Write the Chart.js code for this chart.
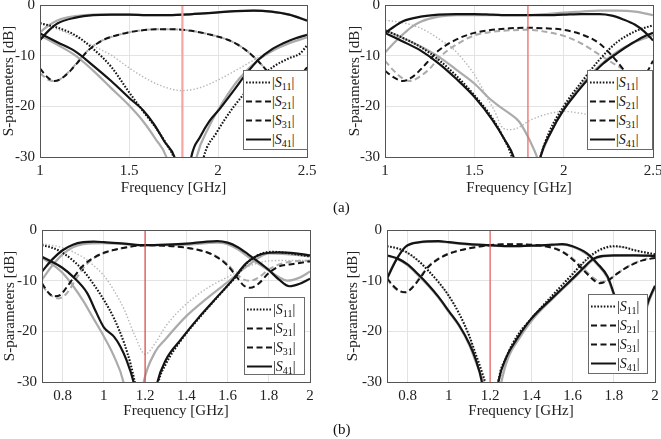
<!DOCTYPE html>
<html>
<head>
<meta charset="utf-8">
<script src="https://cdn.jsdelivr.net/npm/chart.js@4/dist/chart.umd.min.js"></script>
<style>
  body { margin: 0; background: #fff; }
  #fig { position: relative; width: 661px; height: 439px; overflow: hidden; background: #fff; font-family: 'Liberation Serif', serif; }
  .panel { position: absolute; }
  .legend { position: absolute; background: #fff; border: 1px solid #6a6a6a; box-sizing: border-box; padding-top: 2px; }
  .legend .row { height: 19px; display: flex; align-items: center; white-space: nowrap; }
  .legend svg { flex: none; }
  .legend span { font-size: 14px; color: #111; margin-left: 1px; }
  .legend sub { font-size: 10px; vertical-align: -3px; line-height: 0; }
  .cap { position: absolute; font-size: 15px; color: #111; }
</style>
</head>
<body>
<div id="fig">
  <div class="panel" style="left:0px;top:-20px"><canvas id="c1" width="330" height="220"></canvas></div>
  <div class="panel" style="left:330px;top:-20px"><canvas id="c2" width="345" height="220"></canvas></div>
  <div class="panel" style="left:0px;top:200px"><canvas id="c3" width="330" height="239"></canvas></div>
  <div class="panel" style="left:330px;top:200px"><canvas id="c4" width="345" height="239"></canvas></div>
  <div class="legend" id="lg1" style="left:243px;top:70px;width:65px;height:80px"></div>
  <div class="legend" id="lg2" style="left:587px;top:70px;width:66px;height:80px"></div>
  <div class="legend" id="lg3" style="left:244px;top:297px;width:61px;height:78px"></div>
  <div class="legend" id="lg4" style="left:588px;top:294px;width:60px;height:80px"></div>
  <div class="cap" style="left:333px;top:199px">(a)</div>
  <div class="cap" style="left:333px;top:421px">(b)</div>
</div>
<script>
// tick values
const yTicks = [-30, -20, -10, 0];
const xRangeTop = [1, 2.5];
const xRangeBottom = [0.7, 2];
const markerFreq = [1.8, 1.8, 1.2, 1.2];

// legend entries: subscript of |S..|
const legendLabels = ['11', '21', '31', '41'];

// ---- panel 1 (top left) ----  [frequency GHz, dB]
const p1Thru = [[1.0,-6.9],[1.05,-5],[1.1,-3.6],[1.2,-2.5],[1.3,-2],[1.4,-1.9],[1.5,-1.9],[1.6,-2],[1.7,-2],[1.8,-1.9],[1.9,-1.7],[2.0,-1.45],[2.1,-1.2],[2.2,-1.1],[2.3,-1.3],[2.4,-1.9],[2.5,-3.1]];
const p1ThruSim = [[1.0,-5.4],[1.05,-4],[1.1,-3],[1.2,-2.2],[1.3,-1.9],[1.4,-1.9],[1.5,-1.9],[1.6,-2],[1.7,-2],[1.8,-1.9],[1.9,-1.7],[2.0,-1.45],[2.1,-1.2],[2.2,-1.1],[2.3,-1.3],[2.4,-1.9],[2.5,-3]];
const p1Coup = [[1.0,-12.5],[1.04,-14.2],[1.08,-15],[1.12,-14.5],[1.17,-13],[1.22,-11],[1.27,-9],[1.35,-7],[1.45,-5.8],[1.55,-5.1],[1.65,-4.8],[1.75,-4.8],[1.85,-5.1],[1.95,-5.8],[2.05,-6.8],[2.12,-8],[2.2,-10.2],[2.27,-12.8],[2.33,-15.5],[2.39,-16.3],[2.45,-14.5],[2.5,-12.3]];
const p1CoupSim = [[1.0,-13.5],[1.05,-14.8],[1.09,-15],[1.13,-14.2],[1.18,-12.5],[1.23,-10.5],[1.28,-8.6],[1.35,-7],[1.45,-5.8],[1.55,-5.1],[1.65,-4.8],[1.75,-4.8],[1.85,-5.1],[1.95,-5.8],[2.05,-6.8],[2.12,-8],[2.2,-10.2],[2.27,-12.8],[2.33,-15.5],[2.39,-16.3],[2.45,-14.5],[2.5,-12.5]];
const p1Refl = [[1.0,-3.6],[1.1,-4.5],[1.2,-6],[1.3,-8.7],[1.4,-12.2],[1.5,-17.2],[1.58,-21],[1.66,-24.7],[1.72,-28],[1.75,-30],[1.79,-36],[1.88,-38],[1.92,-30],[1.99,-25.3],[2.09,-20],[2.2,-15.5],[2.31,-12.2],[2.4,-10.5],[2.46,-9.6],[2.5,-8]];
const p1ReflSim = [[1.0,-3.5],[1.1,-4.8],[1.2,-6.3],[1.3,-8.1],[1.4,-9.9],[1.5,-12.4],[1.6,-14.6],[1.7,-16.2],[1.8,-16.9],[1.9,-16.3],[2.0,-14.8],[2.1,-12.9],[2.2,-10.9],[2.3,-9],[2.4,-7.4],[2.5,-6]];
const p1Iso = [[1.0,-5.6],[1.1,-7.4],[1.2,-9.2],[1.3,-12],[1.4,-15],[1.5,-18.3],[1.58,-20.8],[1.64,-23.5],[1.7,-27],[1.76,-30.5],[1.8,-38],[1.82,-38],[1.85,-30],[1.9,-26],[1.95,-23],[2.01,-20.5],[2.09,-16.8],[2.16,-13.5],[2.23,-10.7],[2.3,-8.8],[2.37,-7.5],[2.44,-6.5],[2.5,-5.9]];
const p1IsoSim = [[1.0,-6],[1.1,-7.9],[1.2,-10],[1.3,-13],[1.4,-16.4],[1.5,-19.8],[1.58,-23],[1.65,-26.5],[1.71,-30],[1.75,-36],[1.84,-38],[1.88,-30],[1.95,-24],[2.03,-19],[2.12,-14.5],[2.22,-11],[2.32,-8.8],[2.42,-7.3],[2.5,-6.4]];

// ---- panel 2 (top right) ----
const p2Thru = [[1.0,-5.5],[1.05,-4.3],[1.1,-3.2],[1.2,-2.3],[1.3,-1.9],[1.4,-1.8],[1.5,-1.8],[1.6,-1.9],[1.7,-2],[1.8,-2],[1.9,-2],[2.0,-1.9],[2.1,-1.8],[2.2,-1.8],[2.27,-2.1],[2.33,-2.8],[2.4,-3.9],[2.45,-5.2],[2.5,-7]];
const p2ThruSim = [[1.0,-9.4],[1.05,-7.5],[1.1,-5.8],[1.15,-4.3],[1.2,-3.3],[1.3,-2.3],[1.4,-2],[1.6,-2],[1.8,-2],[1.9,-1.8],[2.0,-1.5],[2.1,-1.3],[2.2,-1.1],[2.3,-1.1],[2.4,-1.3],[2.5,-2]];
const p2Coup = [[1.0,-13],[1.05,-14.3],[1.1,-15],[1.15,-14.3],[1.2,-12.7],[1.25,-10.8],[1.3,-9],[1.4,-6.8],[1.5,-5.5],[1.6,-4.9],[1.7,-4.6],[1.8,-4.5],[1.9,-4.6],[2.0,-4.9],[2.1,-5.8],[2.2,-7.6],[2.3,-11.2],[2.36,-13.8],[2.42,-15],[2.47,-13],[2.5,-11]];
const p2CoupSim = [[1.0,-11],[1.05,-13],[1.1,-14.5],[1.14,-15],[1.2,-14],[1.25,-12.6],[1.3,-10.5],[1.4,-7.8],[1.5,-6],[1.6,-5.3],[1.7,-5],[1.8,-4.9],[1.9,-5.3],[2.0,-6.1],[2.1,-7.6],[2.2,-9.8],[2.3,-12],[2.4,-14],[2.5,-16]];
const p2Refl = [[1.0,-5],[1.1,-6.5],[1.2,-8.3],[1.3,-10.8],[1.4,-14],[1.5,-17.8],[1.6,-22.3],[1.66,-26],[1.71,-30],[1.75,-36],[1.83,-36],[1.87,-30],[1.92,-25],[2.0,-20],[2.1,-15.2],[2.2,-10.8],[2.3,-7.3],[2.4,-5.2],[2.5,-4]];
const p2ReflSim = [[1.0,-3],[1.1,-3.5],[1.18,-4.3],[1.25,-5.5],[1.31,-6.9],[1.38,-8.6],[1.44,-10.9],[1.49,-13.2],[1.53,-15.5],[1.57,-18.2],[1.61,-20.7],[1.66,-24.3],[1.7,-24.6],[1.74,-24.3],[1.81,-22.8],[1.9,-21.6],[2.0,-21],[2.1,-21.4],[2.2,-22],[2.3,-21.8],[2.4,-21],[2.5,-20]];
const p2Iso = [[1.0,-5.5],[1.1,-7.2],[1.2,-9],[1.3,-11.5],[1.4,-14.6],[1.5,-18.1],[1.6,-22.6],[1.67,-26.6],[1.72,-30],[1.76,-36],[1.84,-36],[1.87,-30],[1.93,-25],[2.0,-20.7],[2.08,-17],[2.15,-14.1],[2.22,-11.6],[2.3,-9.5],[2.38,-7.6],[2.45,-6.2],[2.5,-5.5]];
const p2IsoSim = [[1.0,-5],[1.1,-6.5],[1.2,-8.2],[1.3,-10.2],[1.4,-12.8],[1.5,-15.5],[1.58,-18.3],[1.64,-20],[1.7,-21.5],[1.75,-23],[1.8,-26],[1.84,-29],[1.86,-30.5],[1.88,-29],[1.93,-25],[2.0,-20.5],[2.1,-15.8],[2.2,-12],[2.3,-9.2],[2.4,-7.3],[2.5,-6]];

// ---- panel 3 (bottom left) ----
const p3Thru = [[0.7,-8.2],[0.75,-5.8],[0.8,-4],[0.85,-2.9],[0.9,-2.4],[0.95,-2.3],[1.0,-2.4],[1.1,-2.7],[1.2,-3],[1.3,-2.9],[1.4,-2.7],[1.5,-2.3],[1.55,-2.2],[1.6,-2.5],[1.65,-3.4],[1.7,-4.8],[1.75,-6.3],[1.8,-7.9],[1.85,-9.8],[1.9,-11.1],[1.95,-10.6],[2.0,-9.6]];
const p3ThruSim = [[0.7,-9.8],[0.75,-7],[0.8,-4.8],[0.85,-3.4],[0.9,-2.8],[1.0,-2.6],[1.1,-2.8],[1.2,-3],[1.3,-3],[1.4,-2.9],[1.5,-2.6],[1.55,-2.5],[1.6,-2.8],[1.65,-3.8],[1.7,-5.3],[1.75,-6.7],[1.8,-8],[1.85,-9.3],[1.89,-10],[1.95,-9.4],[2.0,-8.2]];
const p3Coup = [[0.7,-10.5],[0.73,-12.3],[0.76,-13.1],[0.79,-12.8],[0.82,-11.3],[0.86,-9],[0.9,-7],[0.95,-5.5],[1.0,-4.5],[1.1,-3.5],[1.2,-3],[1.3,-3.1],[1.4,-3.5],[1.5,-4.4],[1.55,-5.4],[1.6,-7],[1.64,-9],[1.68,-11],[1.71,-11.4],[1.75,-10.6],[1.8,-8.5],[1.85,-7.2],[1.9,-6.8],[1.95,-6.5],[2.0,-6.2]];
const p3CoupSim = [[0.7,-11],[0.74,-12.8],[0.78,-13.5],[0.82,-12.5],[0.86,-10],[0.9,-7.5],[0.95,-5.6],[1.0,-4.6],[1.1,-3.5],[1.2,-3],[1.3,-3.1],[1.4,-3.5],[1.5,-4.4],[1.55,-5.3],[1.6,-6.8],[1.64,-8.5],[1.68,-9.8],[1.71,-10],[1.75,-9.4],[1.8,-7.8],[1.85,-6.8],[1.9,-6.3],[2.0,-6]];
const p3Refl = [[0.7,-3],[0.75,-3.5],[0.8,-4.5],[0.85,-6],[0.9,-8],[0.95,-10.7],[1.0,-13.8],[1.05,-17.5],[1.1,-22.5],[1.13,-26.5],[1.15,-30],[1.18,-36],[1.24,-36],[1.265,-30],[1.3,-26.5],[1.37,-22],[1.47,-17],[1.55,-13.3],[1.63,-9.7],[1.7,-6.3],[1.77,-4.6],[1.82,-4.3],[1.9,-4.6],[2.0,-5.2]];
const p3ReflSim = [[0.7,-2.7],[0.8,-3.5],[0.9,-5.4],[0.95,-7],[1.0,-9],[1.05,-12],[1.1,-15.8],[1.15,-20.8],[1.2,-24.5],[1.25,-22.3],[1.3,-19],[1.4,-14.6],[1.5,-11.5],[1.6,-9.3],[1.65,-8.2],[1.7,-7.2],[1.8,-6.1],[1.9,-6],[2.0,-6]];
const p3Iso = [[0.7,-5.3],[0.75,-6.3],[0.8,-7.5],[0.85,-9.2],[0.92,-12.5],[0.96,-16],[1.0,-19.2],[1.05,-21.1],[1.08,-23],[1.11,-25.7],[1.144,-30],[1.17,-36],[1.235,-36],[1.26,-30],[1.3,-25.7],[1.37,-21.8],[1.47,-16.8],[1.55,-13.2],[1.63,-9.6],[1.69,-6.6],[1.77,-4.7],[1.85,-4.4],[1.93,-4.6],[2.0,-5]];
const p3IsoSim = [[0.7,-5.5],[0.75,-6.8],[0.8,-8.5],[0.85,-11],[0.9,-14],[0.95,-17.5],[1.0,-21],[1.05,-25],[1.095,-30],[1.12,-36],[1.17,-36],[1.193,-30],[1.25,-24],[1.3,-21.5],[1.4,-17],[1.5,-13.5],[1.6,-10.3],[1.7,-7],[1.8,-4.6],[1.9,-4.8],[2.0,-5.2]];

// ---- panel 4 (bottom right) ----
const p4Thru = [[0.7,-9.6],[0.745,-5.9],[0.79,-3.3],[0.86,-2.4],[0.95,-2.2],[1.0,-2.4],[1.1,-2.8],[1.2,-3],[1.3,-3.2],[1.4,-3.1],[1.5,-2.9],[1.55,-2.8],[1.6,-3.2],[1.67,-4.6],[1.72,-6.6],[1.77,-9.2],[1.8,-12.5],[1.85,-18],[1.9,-23],[1.93,-21],[1.96,-15],[2.0,-11]];
const p4ThruSim = [[0.7,-9.4],[0.745,-5.8],[0.79,-3.3],[0.86,-2.4],[0.95,-2.3],[1.0,-2.5],[1.1,-2.9],[1.2,-3.1],[1.3,-3.2],[1.4,-3.1],[1.5,-3],[1.55,-2.9],[1.6,-3.3],[1.67,-4.8],[1.72,-6.8],[1.77,-9.5],[1.8,-12.8],[1.85,-18.5],[1.9,-23.5],[1.93,-21.5],[1.96,-15.5],[2.0,-11.3]];
const p4Coup = [[0.7,-9.5],[0.73,-11],[0.76,-12],[0.79,-12.3],[0.82,-11.5],[0.86,-9.5],[0.9,-7.3],[0.95,-5.7],[1.0,-4.7],[1.1,-3.6],[1.2,-3],[1.3,-2.8],[1.4,-2.9],[1.5,-3.5],[1.55,-4.3],[1.6,-5.8],[1.65,-7.8],[1.7,-9.8],[1.73,-10.5],[1.77,-10],[1.82,-8.5],[1.88,-7],[1.94,-6],[2.0,-5.5]];
const p4CoupSim = [[0.7,-9.7],[0.73,-11.2],[0.76,-12.1],[0.79,-12.3],[0.82,-11.4],[0.86,-9.3],[0.9,-7.2],[0.95,-5.6],[1.0,-4.6],[1.1,-3.6],[1.2,-3],[1.3,-2.8],[1.4,-2.9],[1.5,-3.4],[1.55,-4.2],[1.6,-5.6],[1.65,-7.5],[1.7,-9.4],[1.74,-10.2],[1.78,-9.7],[1.83,-8.2],[1.89,-6.7],[1.95,-5.8],[2.0,-5.2]];
const p4Refl = [[0.7,-3.2],[0.75,-3.6],[0.8,-4.5],[0.85,-6],[0.9,-8],[0.95,-10.3],[1.0,-13],[1.05,-16.5],[1.1,-21],[1.13,-24.5],[1.16,-28],[1.18,-31],[1.2,-38],[1.22,-38],[1.24,-30],[1.28,-25],[1.33,-21],[1.4,-17.5],[1.5,-13],[1.6,-8.7],[1.65,-6.5],[1.7,-4.7],[1.75,-3.6],[1.8,-3.2],[1.85,-3.4],[1.9,-4],[2.0,-4.8]];
const p4ReflSim = [[0.7,-3.3],[0.75,-3.7],[0.8,-4.6],[0.85,-6.1],[0.9,-8.1],[0.95,-10.4],[1.0,-13.1],[1.05,-16.6],[1.1,-21.2],[1.13,-24.8],[1.16,-28.5],[1.18,-31.5],[1.2,-38],[1.23,-38],[1.25,-30],[1.29,-25],[1.34,-21],[1.41,-17.5],[1.5,-13.2],[1.6,-8.9],[1.65,-6.7],[1.7,-4.9],[1.75,-3.8],[1.8,-3.3],[1.85,-3.4],[1.9,-3.9],[2.0,-4.7]];
const p4Iso = [[0.7,-5],[0.75,-5.6],[0.8,-6.8],[0.85,-8.7],[0.9,-10.8],[0.95,-13.2],[1.0,-16],[1.05,-18.8],[1.1,-22.5],[1.13,-25.5],[1.16,-30],[1.18,-36],[1.22,-36],[1.24,-30],[1.28,-25],[1.33,-21.5],[1.4,-17.5],[1.5,-13.5],[1.6,-9.6],[1.65,-7.6],[1.7,-5.7],[1.75,-5.1],[1.8,-5],[1.9,-5],[2.0,-5.1]];
const p4IsoSim = [[0.7,-5.1],[0.75,-5.7],[0.8,-7],[0.85,-8.9],[0.9,-11],[0.95,-13.4],[1.0,-16.2],[1.05,-19],[1.1,-22.8],[1.13,-26],[1.165,-30],[1.19,-36],[1.23,-36],[1.255,-30],[1.29,-25],[1.34,-21.5],[1.41,-17.5],[1.5,-13.7],[1.6,-9.8],[1.65,-7.8],[1.7,-5.9],[1.75,-5.2],[1.8,-5.1],[1.9,-5],[2.0,-5.1]];

// line looks
const BLACK = '#141414';
const GRAY = '#ababab';
const styles = {
  refl:    { color: BLACK, width: 2.1, dash: [1.6, 1.6] },
  reflSim: { color: '#b5b5b5', width: 1.4, dash: [1.4, 2] },
  coup:    { color: BLACK, width: 2, dash: [6, 3.5] },
  coupSim: { color: GRAY, width: 2, dash: [6, 3.5] },
  solid:   { color: BLACK, width: 2.2, dash: [] },
  solidSim:{ color: GRAY, width: 2.2, dash: [] }
};

function toPoints(pairs) {
  return pairs.map(p => ({ x: p[0], y: p[1] }));
}

function line(pairs, style) {
  const s = styles[style];
  return {
    data: toPoints(pairs),
    borderColor: s.color,
    borderWidth: s.width,
    borderDash: s.dash,
    pointRadius: 0,
    fill: false,
    cubicInterpolationMode: 'monotone'
  };
}

function markerLine(f, color, width) {
  return {
    data: [{ x: f, y: yTicks[yTicks.length - 1] }, { x: f, y: yTicks[0] }],
    borderColor: color,
    borderWidth: width,
    pointRadius: 0,
    fill: false
  };
}

// draws the axes box
const framePlugin = {
  id: 'frame',
  afterDatasetsDraw(chart) {
    const a = chart.chartArea;
    const ctx = chart.ctx;
    ctx.save();
    ctx.strokeStyle = '#555';
    ctx.lineWidth = 1;
    ctx.strokeRect(Math.round(a.left) + 0.5, Math.round(a.top) + 0.5, Math.round(a.right - a.left), Math.round(a.bottom - a.top));
    ctx.restore();
  }
};

function fmt(v) {
  return String(+v.toFixed(2));
}

function makeChart(canvasId, datasets, xRange, xStep, box) {
  const canvas = document.getElementById(canvasId);
  const W = canvas.width, H = canvas.height;
  const font = { family: "'Liberation Serif', serif", size: 15 };
  return new Chart(canvas.getContext('2d'), {
    type: 'line',
    data: { datasets: datasets },
    options: {
      responsive: false,
      animation: false,
      events: [],
      layout: { padding: { left: 0, top: box.top, right: W - box.right, bottom: 0 } },
      plugins: { legend: { display: false }, tooltip: { enabled: false } },
      scales: {
        x: {
          type: 'linear',
          min: xRange[0],
          max: xRange[1],
          afterFit: s => { s.height = H - box.bottom; },
          ticks: { stepSize: xStep, includeBounds: false, color: '#222', font: font, padding: 5, maxRotation: 0, callback: fmt },
          grid: { color: '#e3e3e3', drawTicks: false },
          border: { display: false },
          title: { display: true, text: 'Frequency [GHz]', color: '#222', font: Object.assign({ lineHeight: 1 }, font), padding: { top: 0, bottom: box.xTitlePad } }
        },
        y: {
          min: yTicks[0],
          max: yTicks[yTicks.length - 1],
          afterFit: s => { s.width = box.left; },
          ticks: { stepSize: yTicks[1] - yTicks[0], color: '#222', font: font, padding: 5, callback: fmt },
          grid: { color: '#e3e3e3', drawTicks: false },
          border: { display: false },
          title: { display: true, text: 'S-parameters [dB]', color: '#222', font: Object.assign({ lineHeight: 1 }, font), padding: { top: box.yTitlePad, bottom: 0 } }
        }
      }
    },
    plugins: [framePlugin]
  });
}

function panelSets(thru, thruSim, coup, coupSim, refl, reflSim, iso, isoSim, marker, mColor, mWidth) {
  // first entry is drawn on top
  return [
    markerLine(marker, mColor, mWidth),
    line(refl, 'refl'),
    line(coup, 'coup'),
    line(thru, 'solid'),
    line(iso, 'solid'),
    line(coupSim, 'coupSim'),
    line(thruSim, 'solidSim'),
    line(isoSim, 'solidSim'),
    line(reflSim, 'reflSim')
  ];
}

function buildLegend(id) {
  const el = document.getElementById(id);
  const dashes = ['1.6 1.6', '6 3.5', '6 3.5', ''];
  legendLabels.forEach((lab, i) => {
    const row = document.createElement('div');
    row.className = 'row';
    row.innerHTML =
      '<svg width="27" height="19"><line x1="2" y1="9.5" x2="27" y2="9.5" stroke="' + BLACK + '" stroke-width="2" stroke-dasharray="' + dashes[i] + '"/></svg>' +
      '<span>|<i>S</i><sub>' + lab + '</sub>|</span>';
    el.appendChild(row);
  });
}

makeChart('c1', panelSets(p1Thru, p1ThruSim, p1Coup, p1CoupSim, p1Refl, p1ReflSim, p1Iso, p1IsoSim, markerFreq[0], '#f6a5a5', 2.2),
  xRangeTop, 0.5, { left: 40, right: 307, top: 25, bottom: 177, xTitlePad: 4, yTitlePad: 2 });
makeChart('c2', panelSets(p2Thru, p2ThruSim, p2Coup, p2CoupSim, p2Refl, p2ReflSim, p2Iso, p2IsoSim, markerFreq[1], '#ee6b6b', 1.3),
  xRangeTop, 0.5, { left: 55, right: 323, top: 25, bottom: 177, xTitlePad: 4, yTitlePad: 18 });
makeChart('c3', panelSets(p3Thru, p3ThruSim, p3Coup, p3CoupSim, p3Refl, p3ReflSim, p3Iso, p3IsoSim, markerFreq[2], '#d94848', 1.2),
  xRangeBottom, 0.2, { left: 42, right: 310, top: 30, bottom: 182, xTitlePad: 20, yTitlePad: 3 });
makeChart('c4', panelSets(p4Thru, p4ThruSim, p4Coup, p4CoupSim, p4Refl, p4ReflSim, p4Iso, p4IsoSim, markerFreq[3], '#ee5a5a', 1.2),
  xRangeBottom, 0.2, { left: 57, right: 325, top: 30, bottom: 182, xTitlePad: 20, yTitlePad: 16 });

['lg1', 'lg2', 'lg3', 'lg4'].forEach(buildLegend);
</script>
</body>
</html>
